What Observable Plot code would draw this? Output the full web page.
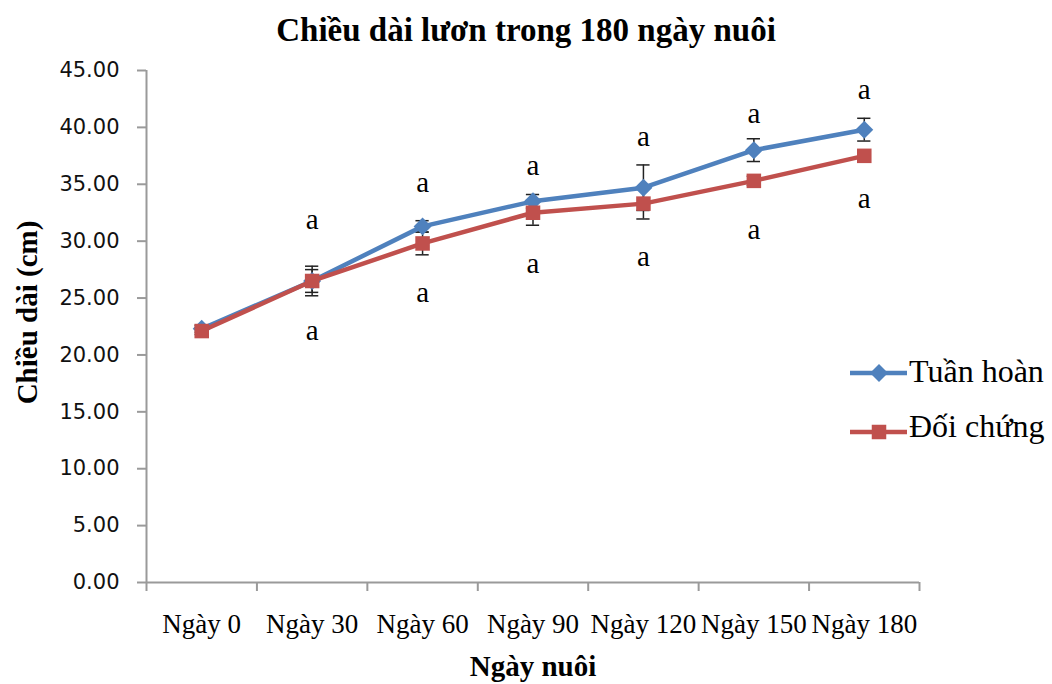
<!DOCTYPE html>
<html>
<head>
<meta charset="utf-8">
<script src="https://cdn.jsdelivr.net/npm/d3@7"></script>
<script src="https://cdn.jsdelivr.net/npm/@observablehq/plot@0.6"></script>
<style>
  body { margin: 0; background: #fff; }
  #wrap { position: relative; width: 1052px; height: 684px; background: #fff; }
  #title { height: 50px; box-sizing: border-box; padding-top: 14px; line-height: 33px; text-align: center;
           font-family: "Liberation Serif", "Times New Roman", serif; font-weight: bold; font-size: 33px; color: #000; white-space: nowrap; }
  #legend { position: absolute; left: 840px; top: 340px; }
  #chart svg { display: block; }
</style>
</head>
<body>
<div id="wrap">
  <div id="title">Chiều dài lươn trong 180 ngày nuôi</div>
  <div id="chart"></div>
  <svg id="legend" width="212" height="120" font-family="Liberation Serif, Times New Roman, serif" font-size="32">
    <line x1="10" x2="67" y1="33" y2="33" stroke="#4F81BD" stroke-width="4.5"/>
    <polygon points="39,24 48,33 39,42 30,33" fill="#4F81BD"/>
    <text x="69" y="42" fill="#000">Tuần hoàn</text>
    <line x1="10" x2="67" y1="92" y2="92" stroke="#C0504D" stroke-width="4.5"/>
    <rect x="31.75" y="84.75" width="14.5" height="14.5" fill="#C0504D"/>
    <text x="69" y="97" fill="#000">Đối chứng</text>
  </svg>
</div>
<script>
// ---- data ----
const days = ["Ngày 0", "Ngày 30", "Ngày 60", "Ngày 90", "Ngày 120", "Ngày 150", "Ngày 180"];
const tuanHoan = [22.3, 26.5, 31.3, 33.5, 34.7, 38.0, 39.8];
const tuanHoanErr = [0.3, 1.3, 0.5, 0.6, 2.0, 1.0, 1.0];
const doiChung = [22.1, 26.5, 29.8, 32.5, 33.3, 35.3, 37.5];
const doiChungErr = [0.3, 1.0, 1.0, 1.1, 1.35, 0.4, 0.4];
const letterText = ["", "a", "a", "a", "a", "a", "a"];
const letterTop = [null, 31.9, 35.1, 36.6, 39.2, 41.2, 43.3];
const letterBottom = [null, 22.1, 25.5, 28.0, 28.6, 31.0, 33.7];
const yTicks = [0, 5, 10, 15, 20, 25, 30, 35, 40, 45];
const yTitle = "Chiều dài (cm)";
const xTitle = "Ngày nuôi";

// ---- derived tables ----
const blue = "#4F81BD", red = "#C0504D", axisColor = "#9a9a9a";
const idx = d3.range(days.length);
const xDomain = [-0.5, days.length - 0.5];
const boundaries = d3.range(days.length + 1).map(k => k - 0.5);
const blueRows = idx.map(i => ({i, v: tuanHoan[i], e: tuanHoanErr[i]}));
const redRows = idx.map(i => ({i, v: doiChung[i], e: doiChungErr[i]}));
const errRows = blueRows.concat(redRows);
const cap = 0.06;

const chart = Plot.plot({
  width: 1052,
  height: 634,
  marginLeft: 146,
  marginRight: 133,
  marginTop: 20,
  marginBottom: 102,
  style: {fontFamily: "Liberation Serif, Times New Roman, serif", fontSize: "27px", background: "#fff", color: "#000"},
  x: {domain: xDomain},
  y: {domain: [0, 45]},
  marks: [
    Plot.ruleY([0], {stroke: axisColor, strokeWidth: 2}),
    Plot.ruleX([xDomain[0]], {stroke: axisColor, strokeWidth: 2}),
    Plot.axisY({ticks: yTicks, tickSize: 9, tickPadding: 18, tickFormat: d3.format(".2f"),
                stroke: axisColor, strokeWidth: 2, fill: "#111", fontSize: 21, fontFamily: "DejaVu Sans", label: null}),
    Plot.axisX({ticks: boundaries, tickSize: 9, tickFormat: () => "", stroke: axisColor, strokeWidth: 2, label: null}),
    Plot.axisX({ticks: idx, tickSize: 0, tickPadding: 31, tickFormat: i => days[i], fontSize: 27, fill: "#000", label: null}),
    // error bars
    Plot.ruleX(errRows, {x: "i", y1: d => d.v - d.e, y2: d => d.v + d.e, stroke: "#222", strokeWidth: 1.5}),
    Plot.ruleY(errRows, {y: d => d.v - d.e, x1: d => d.i - cap, x2: d => d.i + cap, stroke: "#222", strokeWidth: 1.5}),
    Plot.ruleY(errRows, {y: d => d.v + d.e, x1: d => d.i - cap, x2: d => d.i + cap, stroke: "#222", strokeWidth: 1.5}),
    // series
    Plot.line(blueRows, {x: "i", y: "v", stroke: blue, strokeWidth: 4.5}),
    Plot.dot(blueRows, {x: "i", y: "v", symbol: "diamond2", r: 8.1, fill: blue, stroke: "none"}),
    Plot.line(redRows, {x: "i", y: "v", stroke: red, strokeWidth: 4.5}),
    Plot.dot(redRows, {x: "i", y: "v", symbol: "square", r: 8.2, fill: red, stroke: "none"}),
    // significance letters
    Plot.text(idx.filter(i => letterTop[i] != null), {x: i => i, y: i => letterTop[i], text: i => letterText[i], fontSize: 29, fill: "#000", lineAnchor: "middle"}),
    Plot.text(idx.filter(i => letterBottom[i] != null), {x: i => i, y: i => letterBottom[i], text: i => letterText[i], fontSize: 29, fill: "#000", lineAnchor: "middle"}),
    // axis titles
    Plot.text([xTitle], {frameAnchor: "bottom", dy: 84, text: d => d, fontWeight: "bold", fontSize: 29, fill: "#000", lineAnchor: "middle", textAnchor: "middle"}),
    Plot.text([yTitle], {frameAnchor: "left", rotate: -90, dx: -119, dy: -14, text: d => d, fontWeight: "bold", fontSize: 29, fill: "#000", lineAnchor: "middle", textAnchor: "middle"})
  ]
});
document.getElementById("chart").appendChild(chart);
</script>
</body>
</html>
